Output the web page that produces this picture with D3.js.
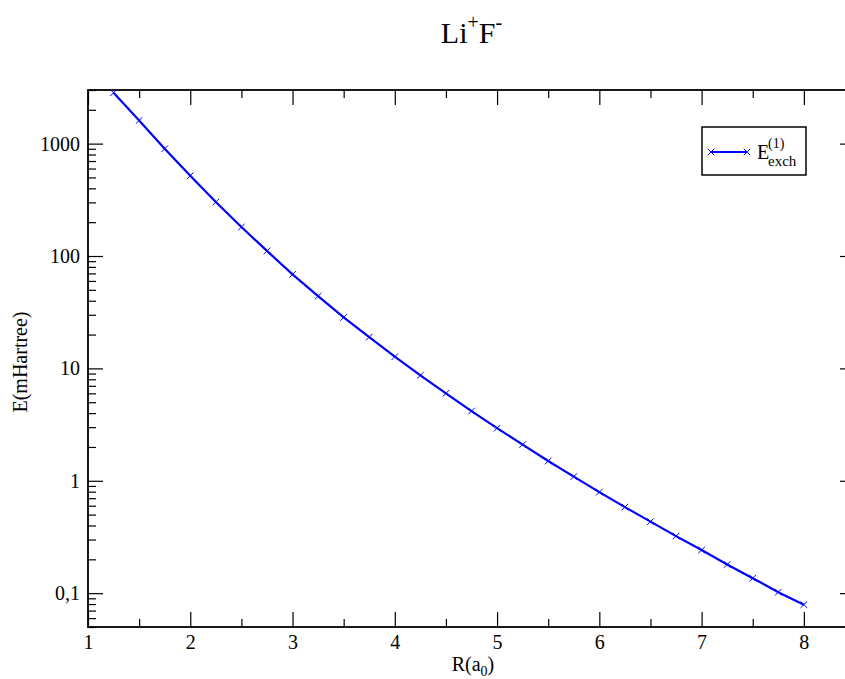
<!DOCTYPE html>
<html>
<head>
<meta charset="utf-8">
<script src="https://d3js.org/d3.v7.min.js"></script>
<style>
  body { margin: 0; background: #fff; }
  svg text { font-family: "Liberation Serif", "Times New Roman", Times, serif; }
  .axis line { stroke: #000; stroke-width: 1.2; }
  .axis text { font-size: 20px; fill: #000; }
</style>
</head>
<body>
<div id="chart"></div>
<script>
// R in bohr, exchange energy in mHartree
var R = [1.25, 1.5, 1.75, 2.0, 2.25, 2.5, 2.75, 3.0, 3.25, 3.5, 3.75, 4.0, 4.25, 4.5,
         4.75, 5.0, 5.25, 5.5, 5.75, 6.0, 6.25, 6.5, 6.75, 7.0, 7.25, 7.5, 7.75, 8.0];
var Eexch = [2838, 1608, 901, 518, 302, 181, 111, 68.6, 44.0, 28.4, 19.0, 12.7, 8.67, 6.0,
             4.17, 2.94, 2.10, 1.50, 1.09, 0.793, 0.583, 0.433, 0.322, 0.242, 0.180, 0.136, 0.102, 0.079];

var xMajor = [1, 2, 3, 4, 5, 6, 7, 8];
var xMinor = [1.5, 2.5, 3.5, 4.5, 5.5, 6.5, 7.5, 8.5];
var yMajor = [0.1, 1, 10, 100, 1000];

var width = 845, height = 679;
var pL = 88, pR = 855, pT = 90, pB = 627;
var serif = "'Liberation Serif', 'Times New Roman', Times, serif";

var svg = d3.select("#chart").append("svg")
    .attr("width", width)
    .attr("height", height)
    .style("display", "block");

var x = d3.scaleLinear().domain([1, 8.5]).range([pL, pR]);
var y = d3.scaleLog().domain([0.05, 3000]).range([pB, pT]);

// minor ticks for log axis: 2..9 in every decade
var yMinor = [];
[0.01, 0.1, 1, 10, 100, 1000].forEach(function(d) {
    for (var k = 2; k <= 9; k++) {
        var v = d * k;
        if (v >= 0.05 && v <= 3000) yMinor.push(v);
    }
});

function fmt(d) { return String(d).replace(".", ","); }

function clean(g) {
    g.attr("font-family", serif).attr("font-size", 20);
    g.select(".domain").remove();
}

// bottom axis
svg.append("g").attr("class", "axis")
    .attr("transform", "translate(0," + pB + ")")
    .call(d3.axisBottom(x).tickValues(xMajor).tickSize(-15).tickPadding(8).tickFormat(fmt))
    .call(clean);
svg.append("g").attr("class", "axis")
    .attr("transform", "translate(0," + pB + ")")
    .call(d3.axisBottom(x).tickValues(xMinor).tickSize(-8).tickFormat(""))
    .call(clean);
// top axis
svg.append("g").attr("class", "axis")
    .attr("transform", "translate(0," + pT + ")")
    .call(d3.axisTop(x).tickValues(xMajor).tickSize(-15).tickFormat(""))
    .call(clean);
svg.append("g").attr("class", "axis")
    .attr("transform", "translate(0," + pT + ")")
    .call(d3.axisTop(x).tickValues(xMinor).tickSize(-8).tickFormat(""))
    .call(clean);

// left axis
svg.append("g").attr("class", "axis")
    .attr("transform", "translate(" + pL + ",0)")
    .call(d3.axisLeft(y).tickValues(yMajor).tickSize(-15).tickPadding(8).tickFormat(fmt))
    .call(clean);
svg.append("g").attr("class", "axis")
    .attr("transform", "translate(" + pL + ",0)")
    .call(d3.axisLeft(y).tickValues(yMinor).tickSize(-8).tickFormat(""))
    .call(clean);
// right axis
svg.append("g").attr("class", "axis")
    .attr("transform", "translate(" + pR + ",0)")
    .call(d3.axisRight(y).tickValues(yMajor).tickSize(-15).tickFormat(""))
    .call(clean);
svg.append("g").attr("class", "axis")
    .attr("transform", "translate(" + pR + ",0)")
    .call(d3.axisRight(y).tickValues(yMinor).tickSize(-8).tickFormat(""))
    .call(clean);

// frame
svg.append("rect")
    .attr("x", pL).attr("y", pT)
    .attr("width", pR - pL).attr("height", pB - pT)
    .attr("fill", "none").attr("stroke", "#000").attr("stroke-width", 1.8);

// data
var data = R.map(function(r, i) { return {r: r, e: Eexch[i]}; });

var line = d3.line()
    .x(function(d) { return x(d.r); })
    .y(function(d) { return y(d.e); });

svg.append("path")
    .datum(data)
    .attr("fill", "none")
    .attr("stroke", "#0000ff")
    .attr("stroke-width", 2.2)
    .attr("d", line);

var cross = d3.symbol().type(d3.symbolX).size(30);

svg.selectAll(".mark")
    .data(data)
    .enter().append("path")
    .attr("class", "mark")
    .attr("transform", function(d) { return "translate(" + x(d.r) + "," + y(d.e) + ")"; })
    .attr("d", cross)
    .attr("fill", "none")
    .attr("stroke", "#0000ff")
    .attr("stroke-width", 1);

// title
var title = svg.append("text")
    .attr("x", (pL + pR) / 2)
    .attr("y", 43)
    .attr("text-anchor", "middle")
    .attr("font-family", serif)
    .attr("font-size", 30);
title.append("tspan").text("Li");
title.append("tspan").attr("font-size", 20).attr("dy", -14).text("+");
title.append("tspan").attr("dy", 14).text("F");
title.append("tspan").attr("font-size", 20).attr("dy", -14).text("-");

// axis titles
var xl = svg.append("text")
    .attr("x", 473)
    .attr("y", 671)
    .attr("text-anchor", "middle")
    .attr("font-family", serif)
    .attr("font-size", 20);
xl.append("tspan").text("R(a");
xl.append("tspan").attr("font-size", 14).attr("dy", 5).text("0");
xl.append("tspan").attr("dy", -5).text(")");

svg.append("text")
    .attr("transform", "translate(27,362) rotate(-90)")
    .attr("text-anchor", "middle")
    .attr("font-family", serif)
    .attr("font-size", 20)
    .text("E(mHartree)");

// legend
var lg = svg.append("g").attr("font-family", serif);
lg.append("rect")
    .attr("x", 702).attr("y", 127)
    .attr("width", 104).attr("height", 48)
    .attr("fill", "#fff").attr("stroke", "#000").attr("stroke-width", 1.5);
lg.append("line")
    .attr("x1", 711).attr("x2", 747)
    .attr("y1", 152).attr("y2", 152)
    .attr("stroke", "#0000ff").attr("stroke-width", 2.2);
lg.selectAll(".lmark")
    .data([711, 747])
    .enter().append("path")
    .attr("transform", function(d) { return "translate(" + d + ",152)"; })
    .attr("d", cross)
    .attr("fill", "none")
    .attr("stroke", "#0000ff")
    .attr("stroke-width", 1);
lg.append("text").attr("x", 757).attr("y", 159).attr("font-size", 20).text("E");
lg.append("text").attr("x", 768).attr("y", 148).attr("font-size", 14).text("(1)");
lg.append("text").attr("x", 768).attr("y", 166).attr("font-size", 15).text("exch");
</script>
</body>
</html>
